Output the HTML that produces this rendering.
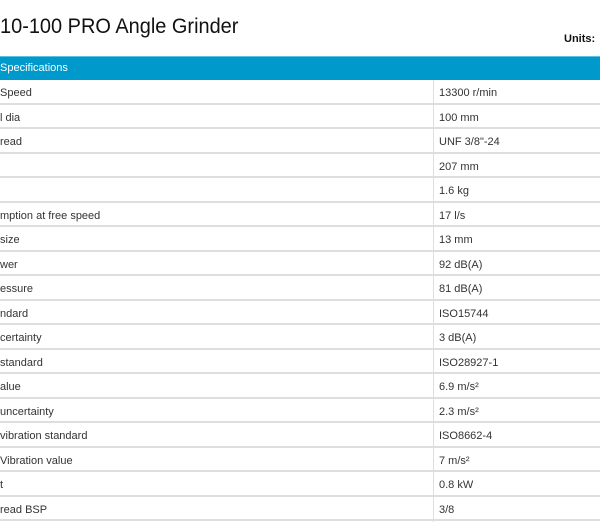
<!DOCTYPE html>
<html><head><meta charset="utf-8"><style>
body{margin:0;width:600px;height:528px;overflow:hidden;background:#fff;font-family:"Liberation Sans",Arial,sans-serif;position:relative}
.title{position:absolute;left:0;top:15px;font-size:21px;color:#111;white-space:nowrap;transform:scaleX(0.95);transform-origin:0 0}
.units{position:absolute;left:564px;top:33px;font-size:11px;font-weight:bold;color:#111}
.hdr{position:absolute;left:0;top:56px;width:600px;height:24px;background:#0099cc;border-top:1px solid #5cc0e0;box-sizing:border-box;color:#fff;font-size:11px;line-height:23px}
.row{position:absolute;left:0;width:600px;height:24.5px;border-bottom:2px solid #dedede;box-sizing:border-box;font-size:11px;color:#333}
.row span{position:absolute;top:7px;white-space:nowrap}
.row .k{left:0}
.row .v{left:439px}
.vline{position:absolute;left:433px;top:80px;width:1px;height:442px;background:#dedede}
</style></head><body>
<div class="title">10-100 PRO Angle Grinder</div>
<div class="units">Units:</div>
<div class="hdr">Specifications</div>
<div id="tbl"></div>
<div class="vline"></div>
<script>
const keys=["Speed","l dia","read","","","mption at free speed","size","wer","essure","ndard","certainty","standard","alue","uncertainty","vibration standard","Vibration value","t","read BSP"];
const vals=["13300 r/min","100 mm","UNF 3/8\"-24","207 mm","1.6 kg","17 l/s","13 mm","92 dB(A)","81 dB(A)","ISO15744","3 dB(A)","ISO28927-1","6.9 m/s²","2.3 m/s²","ISO8662-4","7 m/s²","0.8 kW","3/8"];
const tbl=document.getElementById('tbl');
keys.forEach((k,i)=>{
  const r=document.createElement('div');r.className='row';r.style.top=(80+i*24.5)+'px';
  
  
  const a=document.createElement('span');a.className='k';a.textContent=k;
  
  
  const b=document.createElement('span');b.className='v';b.textContent=vals[i];
  
  
  r.appendChild(a);r.appendChild(b);tbl.appendChild(r);
});
</script>
</body></html>
